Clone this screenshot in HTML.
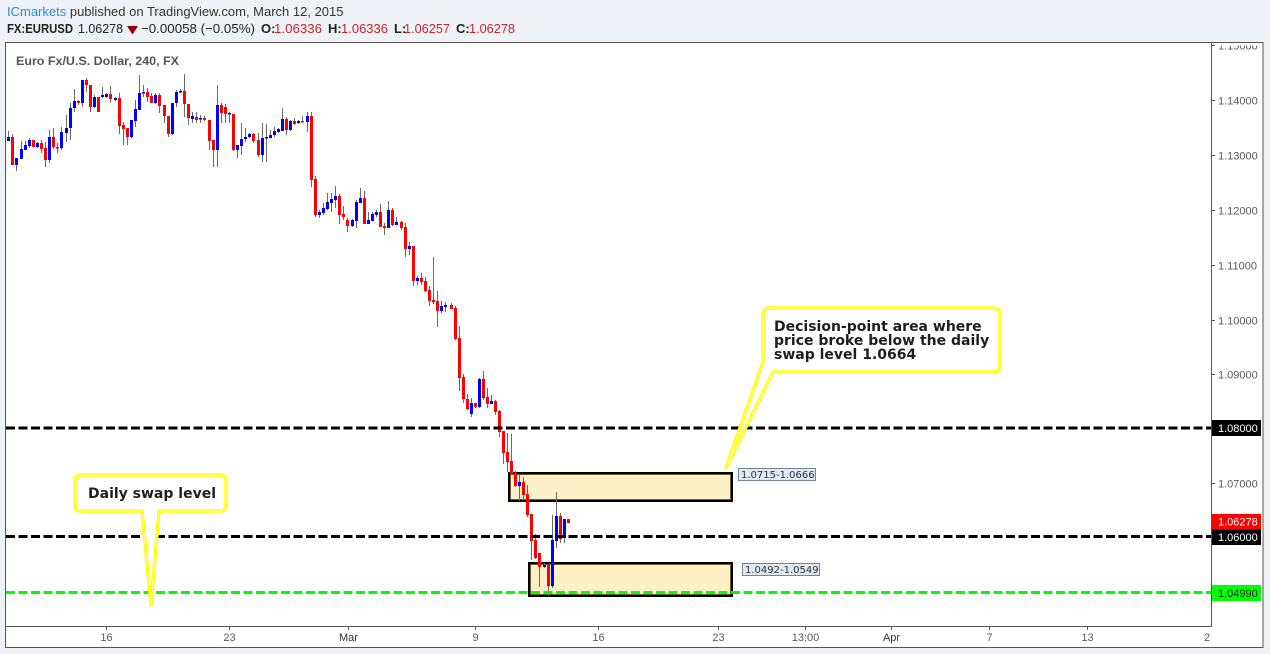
<!DOCTYPE html>
<html>
<head>
<meta charset="utf-8">
<style>
html,body{margin:0;padding:0;background:#eef1f5;}
svg{display:block;}
</style>
</head>
<body>
<svg width="1270" height="654" viewBox="0 0 1270 654" xmlns="http://www.w3.org/2000/svg">
<defs>
<clipPath id="plot"><rect x="6" y="43" width="1205.5" height="583.5"/></clipPath>
<clipPath id="paxis"><rect x="1212" y="45.5" width="51" height="581"/></clipPath>
<clipPath id="taxis"><rect x="6" y="627" width="1205" height="20"/></clipPath>
</defs>
<rect x="0" y="0" width="1270" height="654" fill="#eef1f5"/>

<!-- header -->
<text x="7" y="16" font-family="Liberation Sans, sans-serif" font-size="13" fill="#333"><tspan fill="#2b8dd6">ICmarkets</tspan> published on TradingView.com, March 12, 2015</text>
<g font-family="Liberation Sans, sans-serif" font-size="13" fill="#222">
<text x="7" y="33" font-weight="bold" textLength="66" lengthAdjust="spacingAndGlyphs">FX:EURUSD</text>
<text x="78" y="33" textLength="45" lengthAdjust="spacingAndGlyphs">1.06278</text>
<polygon points="127,26 138,26 132.5,34.5" fill="#8b0000"/>
<text x="141" y="33" textLength="114" lengthAdjust="spacingAndGlyphs">−0.00058 (−0.05%)</text>
<text x="261" y="33" font-weight="bold">O:</text>
<text x="274" y="33" fill="#c0272d" textLength="48" lengthAdjust="spacingAndGlyphs">1.06336</text>
<text x="328" y="33" font-weight="bold">H:</text>
<text x="341" y="33" fill="#c0272d" textLength="47" lengthAdjust="spacingAndGlyphs">1.06336</text>
<text x="394" y="33" font-weight="bold">L:</text>
<text x="404" y="33" fill="#c0272d" textLength="46" lengthAdjust="spacingAndGlyphs">1.06257</text>
<text x="456" y="33" font-weight="bold">C:</text>
<text x="469" y="33" fill="#c0272d" textLength="46" lengthAdjust="spacingAndGlyphs">1.06278</text>
</g>

<!-- frame -->
<rect x="5.5" y="42.5" width="1257.5" height="605" fill="#ffffff" stroke="#555" stroke-width="1"/>
<line x1="1211.5" y1="42.5" x2="1211.5" y2="626.5" stroke="#555" stroke-width="1"/>
<line x1="5.5" y1="626.5" x2="1211.5" y2="626.5" stroke="#555" stroke-width="1"/>

<text x="16" y="65" font-family="Liberation Sans, sans-serif" font-size="12" font-weight="bold" fill="#555" textLength="163" lengthAdjust="spacingAndGlyphs">Euro Fx/U.S. Dollar, 240, FX</text>

<g clip-path="url(#plot)">
<!-- zones -->
<rect x="509" y="473" width="223" height="28" fill="#fdefc6" stroke="#000" stroke-width="2"/>
<rect x="510.5" y="474.5" width="220" height="25" fill="none" stroke="#6b5a2a" stroke-width="1"/>
<rect x="529" y="563" width="203" height="33" fill="#fdefc6" stroke="#000" stroke-width="2"/>
<rect x="530.5" y="564.5" width="200" height="30" fill="none" stroke="#6b5a2a" stroke-width="1"/>

<!-- wicks -->
<path fill="none" stroke="#6a6a6a" stroke-width="1" d="M8.5 131V141 M12.5 134V165 M16.5 158V171 M21.5 141V159 M25.5 141V150 M29.5 138V148 M33.5 140V147 M37.5 142V148 M41.5 140V153 M45.5 142V167 M49.5 130V163 M53.5 128V149 M57.5 143V153 M61.5 127V150 M66.5 115V142 M70.5 103V140 M74.5 89V112 M78.5 100V105 M82.5 80V107 M86.5 78V92 M90.5 85V112 M94.5 95V108 M98.5 97V112 M102.5 87V98 M106.5 93V98 M110.5 86V103 M115.5 97V101 M119.5 93V134 M123.5 122V145 M127.5 128V145 M131.5 120V138 M135.5 100V127 M139.5 75V110 M143.5 85V97 M147.5 88V102 M151.5 93V103 M155.5 93V104 M159.5 93V113 M164.5 105V123 M168.5 116V137 M172.5 103V135 M176.5 90V107 M180.5 89V93 M184.5 74V117 M188.5 104V125 M192.5 112V123 M196.5 112V123 M200.5 115V123 M204.5 116V121 M209.5 120V150 M213.5 140V167 M217.5 85V167 M221.5 103V123 M225.5 104V123 M229.5 112V123 M233.5 114V151 M237.5 145V158 M241.5 123V155 M245.5 128V142 M249.5 133V138 M253.5 133V143 M258.5 133V157 M262.5 123V162 M266.5 124V162 M270.5 130V138 M274.5 127V137 M278.5 128V133 M282.5 108V131 M286.5 117V135 M290.5 120V131 M294.5 118V125 M298.5 120V124 M302.5 116V122 M307.5 112V132 M311.5 112V187 M315.5 176V217 M319.5 210V218 M323.5 203V215 M327.5 193V210 M331.5 193V212 M335.5 186V208 M339.5 194V224 M343.5 206V220 M347.5 218V232 M352.5 219V227 M356.5 200V228 M360.5 188V203 M364.5 191V224 M368.5 212V224 M372.5 212V221 M376.5 210V217 M380.5 204V227 M384.5 223V235 M388.5 201V228 M392.5 208V226 M396.5 217V225 M401.5 221V230 M405.5 223V257 M409.5 242V255 M413.5 246V286 M417.5 276V285 M421.5 273V285 M425.5 277V292 M429.5 286V306 M433.5 257V304 M437.5 291V327 M441.5 301V313 M445.5 302V312 M451.5 303V309 M455.5 306V340 M459.5 326V391 M463.5 374V403 M467.5 394V410 M471.5 398V417 M475.5 403V408 M479.5 378V408 M483.5 371V400 M487.5 388V408 M491.5 395V404 M495.5 400V415 M499.5 410V437 M503.5 431V464 M507.5 433V472 M511.5 434V475 M515.5 471V487 M519.5 474V501 M523.5 477V500 M527.5 485V517 M531.5 514V560 M535.5 534V559 M539.5 553V587 M544.5 563V568 M548.5 565V596 M552.5 515V588 M556.5 492V548 M560.5 513V543 M564.5 519V543"/>

<!-- red bodies -->
<path fill="#ff0000" d="M11 137h3V165h-3z M32 140h3V147h-3z M40 143h3V149h-3z M44 148h3V160h-3z M52 137h3V147h-3z M56 147h3V148.5h-3z M77 101h3V103h-3z M85 80h3V85h-3z M89 85h3V107h-3z M97 97h3V112h-3z M109 94h3V99h-3z M118 98h3V126h-3z M122 125h3V129h-3z M126 128h3V137h-3z M146 92h3V97h-3z M150 96h3V103h-3z M158 95h3V106h-3z M163 105h3V116h-3z M167 116h3V134h-3z M183 91h3V104h-3z M187 104h3V118h-3z M195 117h3V120h-3z M203 118h3V120h-3z M208 120h3V141h-3z M212 140h3V150h-3z M220 105h3V113h-3z M224 107h3V114h-3z M232 114h3V150h-3z M252 134h3V141h-3z M257 140h3V155h-3z M285 119h3V130h-3z M293 121h3V124h-3z M301 121h3V122.5h-3z M310 116h3V180h-3z M314 179h3V215h-3z M338 196h3V215h-3z M342 214h3V217h-3z M346 220h3V226h-3z M363 198h3V224h-3z M379 212h3V227h-3z M383 226h3V228h-3z M391 210h3V225h-3z M400 222h3V228h-3z M404 227h3V249h-3z M412 246h3V281h-3z M420 278h3V282h-3z M424 281h3V291h-3z M428 290h3V301h-3z M432 300h3V302h-3z M436 301h3V311h-3z M450 305h3V309h-3z M454 308h3V339h-3z M458 338h3V378h-3z M462 377h3V399h-3z M466 399h3V409h-3z M474 403h3V407h-3z M482 379h3V398h-3z M486 397h3V404h-3z M494 401h3V412h-3z M498 411h3V432h-3z M502 431h3V453h-3z M506 452h3V462h-3z M510 461h3V474h-3z M514 473h3V486h-3z M522 482h3V495h-3z M526 494h3V515h-3z M530 514h3V541h-3z M534 540h3V558h-3z M538 553h3V567h-3z M547 565h3V586h-3z M559 516h3V539h-3z M567 519h3V523h-3z"/>

<!-- blue bodies -->
<path fill="#0000ff" d="M7 137h3V141h-3z M15 158h3V165h-3z M20 149h3V159h-3z M24 145h3V150h-3z M28 140h3V146h-3z M36 143h3V147h-3z M48 137h3V160h-3z M60 132h3V148h-3z M65 128h3V133h-3z M69 108h3V128h-3z M73 101h3V108h-3z M81 80h3V103h-3z M93 97h3V107h-3z M101 95h3V97h-3z M105 94h3V97h-3z M114 98h3V100h-3z M130 120h3V137h-3z M134 109h3V121h-3z M138 93h3V110h-3z M142 92h3V93.5h-3z M154 95h3V103h-3z M171 103h3V134h-3z M175 92h3V103h-3z M179 91h3V92.5h-3z M191 116h3V119h-3z M199 118h3V119.5h-3z M216 105h3V150h-3z M228 113h3V114.5h-3z M236 145h3V150h-3z M240 139h3V146h-3z M244 137h3V139h-3z M248 134h3V137h-3z M261 138h3V155h-3z M265 137h3V138.5h-3z M269 135h3V138h-3z M273 131h3V135h-3z M277 129h3V132h-3z M281 119h3V131h-3z M289 121h3V130h-3z M297 121h3V123h-3z M306 116h3V122h-3z M318 212h3V215h-3z M322 208h3V213h-3z M326 202h3V209h-3z M330 199h3V203h-3z M334 196h3V200h-3z M351 220h3V226h-3z M355 202h3V221h-3z M359 198h3V203h-3z M367 220h3V224h-3z M371 214h3V221h-3z M375 212h3V215h-3z M387 210h3V228h-3z M395 222h3V225h-3z M408 246h3V249h-3z M416 278h3V281h-3z M440 306h3V311h-3z M444 305h3V307h-3z M470 403h3V414h-3z M478 379h3V407h-3z M490 401h3V404h-3z M518 482h3V486h-3z M543 565h3V567h-3z M551 540h3V586h-3z M555 516h3V541h-3z M563 519h3V538h-3z"/>

<!-- horizontal levels -->
<line x1="6" y1="428" x2="1211" y2="428" stroke="#000" stroke-width="3" stroke-dasharray="9 3.5"/>
<line x1="6" y1="536.5" x2="1211" y2="536.5" stroke="#000" stroke-width="3" stroke-dasharray="9 3.5"/>
<line x1="6" y1="592.5" x2="1211" y2="592.5" stroke="#00ff00" stroke-width="3" stroke-dasharray="9 3.5"/>

<!-- callout 1 -->
<path d="M81 475 H220 Q226 475 226 481 V505 Q226 511 220 511 H159 L151 605 L142 511 H81 Q75 511 75 505 V481 Q75 475 81 475 Z" fill="#ffffff" stroke="#ffff00" stroke-width="3.5" stroke-linejoin="round"/>
<path d="M81 475 H220 Q226 475 226 481 V505 Q226 511 220 511 H159 L151 605 L142 511 H81 Q75 511 75 505 V481 Q75 475 81 475 Z" fill="none" stroke="#ffff9a" stroke-width="1" stroke-linejoin="round"/>
<text x="88" y="498" font-family="DejaVu Sans, Liberation Sans, sans-serif" font-size="14" font-weight="bold" fill="#1e1e1e">Daily swap level</text>

<!-- callout 2 -->
<path d="M770 308 H993 Q1000 308 1000 315 V365 Q1000 372 993 372 H773 L726 468 L763 362 V315 Q763 308 770 308 Z" fill="#ffffff" stroke="#ffff00" stroke-width="3.5" stroke-linejoin="round"/>
<path d="M770 308 H993 Q1000 308 1000 315 V365 Q1000 372 993 372 H773 L726 468 L763 362 V315 Q763 308 770 308 Z" fill="none" stroke="#ffff9a" stroke-width="1" stroke-linejoin="round"/>
<g font-family="DejaVu Sans, Liberation Sans, sans-serif" font-size="14" font-weight="bold" fill="#1e1e1e">
<text x="774" y="331">Decision-point area where</text>
<text x="774" y="345">price broke below the daily</text>
<text x="774" y="359">swap level 1.0664</text>
</g>

<!-- zone labels -->
<rect x="738.5" y="468.5" width="77" height="12" fill="#dfe9f1" stroke="#6f8797" stroke-width="1"/>
<text x="741" y="478" font-family="DejaVu Sans, Liberation Sans, sans-serif" font-size="10" fill="#333">1.0715-1.0666</text>
<rect x="742.5" y="563.5" width="77" height="12" fill="#dfe9f1" stroke="#6f8797" stroke-width="1"/>
<text x="745" y="573" font-family="DejaVu Sans, Liberation Sans, sans-serif" font-size="10" fill="#333">1.0492-1.0549</text>
</g>

<!-- price axis -->
<g stroke="#555" stroke-width="1">
<line x1="1211" y1="45.5" x2="1215" y2="45.5"/>
<line x1="1211" y1="100.5" x2="1215" y2="100.5"/>
<line x1="1211" y1="155.5" x2="1215" y2="155.5"/>
<line x1="1211" y1="210.5" x2="1215" y2="210.5"/>
<line x1="1211" y1="265.5" x2="1215" y2="265.5"/>
<line x1="1211" y1="320.5" x2="1215" y2="320.5"/>
<line x1="1211" y1="374.5" x2="1215" y2="374.5"/>
<line x1="1211" y1="483.5" x2="1215" y2="483.5"/>
</g>
<g clip-path="url(#paxis)" font-family="Liberation Sans, sans-serif" font-size="11" fill="#5a5a5a">
<text x="1218" y="49.5">1.15000</text>
<text x="1218" y="104.5">1.14000</text>
<text x="1218" y="159.5">1.13000</text>
<text x="1218" y="214.5">1.12000</text>
<text x="1218" y="269.5">1.11000</text>
<text x="1218" y="324.5">1.10000</text>
<text x="1218" y="378.5">1.09000</text>
<text x="1218" y="487.5">1.07000</text>
</g>
<rect x="1212" y="420" width="49" height="16" fill="#000"/>
<text x="1218" y="432" font-family="Liberation Sans, sans-serif" font-size="11" fill="#fff">1.08000</text>
<rect x="1212" y="514" width="49" height="15.5" fill="#ff0000"/>
<text x="1218" y="525.5" font-family="Liberation Sans, sans-serif" font-size="11" fill="#fff">1.06278</text>
<rect x="1212" y="529.5" width="49" height="15.5" fill="#000"/>
<text x="1218" y="541" font-family="Liberation Sans, sans-serif" font-size="11" fill="#fff">1.06000</text>
<rect x="1212" y="585" width="49" height="16" fill="#00ff00"/>
<text x="1218" y="597" font-family="Liberation Sans, sans-serif" font-size="11" fill="#222">1.04990</text>

<!-- time axis -->
<g stroke="#555" stroke-width="1">
<line x1="106.5" y1="627" x2="106.5" y2="630"/>
<line x1="229.5" y1="627" x2="229.5" y2="630"/>
<line x1="348.5" y1="627" x2="348.5" y2="630"/>
<line x1="475.5" y1="627" x2="475.5" y2="630"/>
<line x1="598.5" y1="627" x2="598.5" y2="630"/>
<line x1="718.5" y1="627" x2="718.5" y2="630"/>
<line x1="805.5" y1="627" x2="805.5" y2="630"/>
<line x1="891.5" y1="627" x2="891.5" y2="630"/>
<line x1="989.5" y1="627" x2="989.5" y2="630"/>
<line x1="1087.5" y1="627" x2="1087.5" y2="630"/>
</g>
<g clip-path="url(#taxis)" font-family="Liberation Sans, sans-serif" font-size="11" fill="#5a5a5a" text-anchor="middle">
<text x="106.5" y="641">16</text>
<text x="229.5" y="641">23</text>
<text x="348.5" y="641" fill="#333">Mar</text>
<text x="475.5" y="641">9</text>
<text x="598.5" y="641">16</text>
<text x="718.5" y="641">23</text>
<text x="805.5" y="641">13:00</text>
<text x="891.5" y="641" fill="#333">Apr</text>
<text x="989.5" y="641">7</text>
<text x="1087.5" y="641">13</text>
<text x="1207" y="641">2</text>
</g>
</svg>
</body>
</html>
